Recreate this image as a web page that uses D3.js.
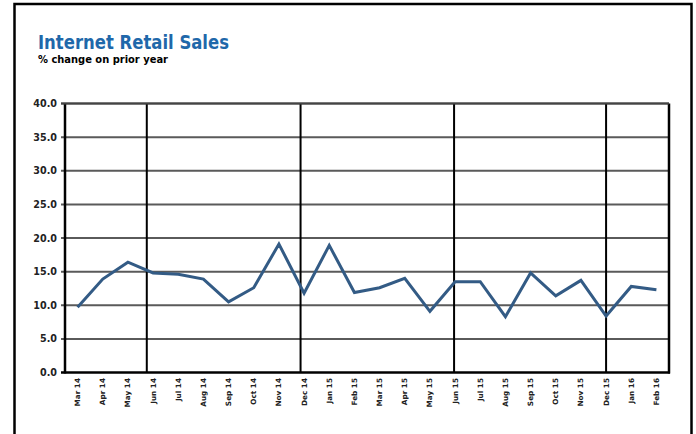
<!DOCTYPE html>
<html>
<head>
<meta charset="utf-8">
<script src="https://cdn.jsdelivr.net/npm/d3@7"></script>
<style>
  html, body { margin: 0; padding: 0; background: #fff; }
  svg { display: block; }
</style>
</head>
<body>
<svg id="chart" width="696" height="434"></svg>
<script>
// ---- data ----
const months = ["Mar 14","Apr 14","May 14","Jun 14","Jul 14","Aug 14","Sep 14","Oct 14","Nov 14","Dec 14",
  "Jan 15","Feb 15","Mar 15","Apr 15","May 15","Jun 15","Jul 15","Aug 15","Sep 15","Oct 15","Nov 15","Dec 15",
  "Jan 16","Feb 16"];
const growth = [9.7, 13.9, 16.4, 14.8, 14.6, 13.9, 10.5, 12.6, 19.1, 11.8,
  18.9, 11.9, 12.6, 14.0, 9.1, 13.5, 13.5, 8.3, 14.8, 11.4, 13.7, 8.4,
  12.8, 12.3];
const yTicks = [0, 5, 10, 15, 20, 25, 30, 35, 40];
const dividers = [2.75, 8.86, 14.96, 21.0]; // in category-index units
const titleText = "Internet Retail Sales";
const subtitleText = "% change on prior year";

// ---- layout ----
const svg = d3.select("#chart");
const L = 65, R = 669, T = 103.5, B = 372.5;

svg.append("rect").attr("x", 14.5).attr("y", 4).attr("width", 677).attr("height", 440)
  .attr("fill", "none").attr("stroke", "#000").attr("stroke-width", 2.5);

svg.append("text").attr("x", 38).attr("y", 49).text(titleText)
  .attr("font-family", "'DejaVu Sans Condensed', 'DejaVu Sans', sans-serif")
  .attr("font-weight", "bold").attr("font-size", 19).attr("fill", "#1f68aa")
  .attr("textLength", 191).attr("lengthAdjust", "spacingAndGlyphs");
svg.append("text").attr("x", 38).attr("y", 63).text(subtitleText)
  .attr("font-family", "'DejaVu Sans Condensed', 'DejaVu Sans', sans-serif")
  .attr("font-weight", "bold").attr("font-size", 10.5).attr("fill", "#000")
  .attr("textLength", 130).attr("lengthAdjust", "spacingAndGlyphs");

const x = d3.scaleBand().domain(months).range([L, R]).paddingInner(0).paddingOuter(0);
const xi = d3.scaleLinear().domain([-0.5, months.length - 0.5]).range([L, R]);
const y = d3.scaleLinear().domain([0, 40]).range([B, T]);

// gridlines
svg.append("g").selectAll("line").data(yTicks.filter(d => d > 0)).join("line")
  .attr("x1", L - 4).attr("x2", R).attr("y1", d => y(d)).attr("y2", d => y(d))
  .attr("stroke", "#5a5a5a").attr("stroke-width", 2);

// y axis labels
svg.append("g").selectAll("text").data(yTicks).join("text")
  .attr("x", 57).attr("y", d => y(d) + 3.5).attr("text-anchor", "end")
  .attr("font-family", "'DejaVu Sans', sans-serif")
  .attr("font-weight", "bold").attr("font-size", 9.6).attr("fill", "#222")
  .text(d => d3.format(".1f")(d));

// divider lines
svg.append("g").selectAll("line").data(dividers).join("line")
  .attr("x1", d => xi(d)).attr("x2", d => xi(d)).attr("y1", T).attr("y2", B)
  .attr("stroke", "#000").attr("stroke-width", 2);

// axes frame
svg.append("line").attr("x1", L).attr("x2", L).attr("y1", T).attr("y2", B + 1)
  .attr("stroke", "#000").attr("stroke-width", 2.5);
svg.append("line").attr("x1", R).attr("x2", R).attr("y1", T).attr("y2", B + 1)
  .attr("stroke", "#000").attr("stroke-width", 2.5);
svg.append("line").attr("x1", L - 4).attr("x2", R + 1).attr("y1", B).attr("y2", B)
  .attr("stroke", "#000").attr("stroke-width", 2.5);
svg.append("line").attr("x1", L - 4).attr("x2", R).attr("y1", T).attr("y2", T)
  .attr("stroke", "#444").attr("stroke-width", 2);

// x labels
svg.append("g").selectAll("text").data(months).join("text")
  .attr("transform", d => `translate(${x(d) + x.bandwidth() / 2 + 2.5},${B + 5.5}) rotate(-90)`)
  .attr("text-anchor", "end")
  .attr("font-family", "'DejaVu Sans', sans-serif")
  .attr("font-weight", "bold").attr("font-size", 7.3).attr("fill", "#222")
  .text(d => d);

// line
const line = d3.line().x((d, i) => x(months[i]) + x.bandwidth() / 2).y(d => y(d));
svg.append("path").datum(growth).attr("d", line)
  .attr("fill", "none").attr("stroke", "#335b85").attr("stroke-width", 3)
  .attr("stroke-linejoin", "miter");
</script>
</body>
</html>
